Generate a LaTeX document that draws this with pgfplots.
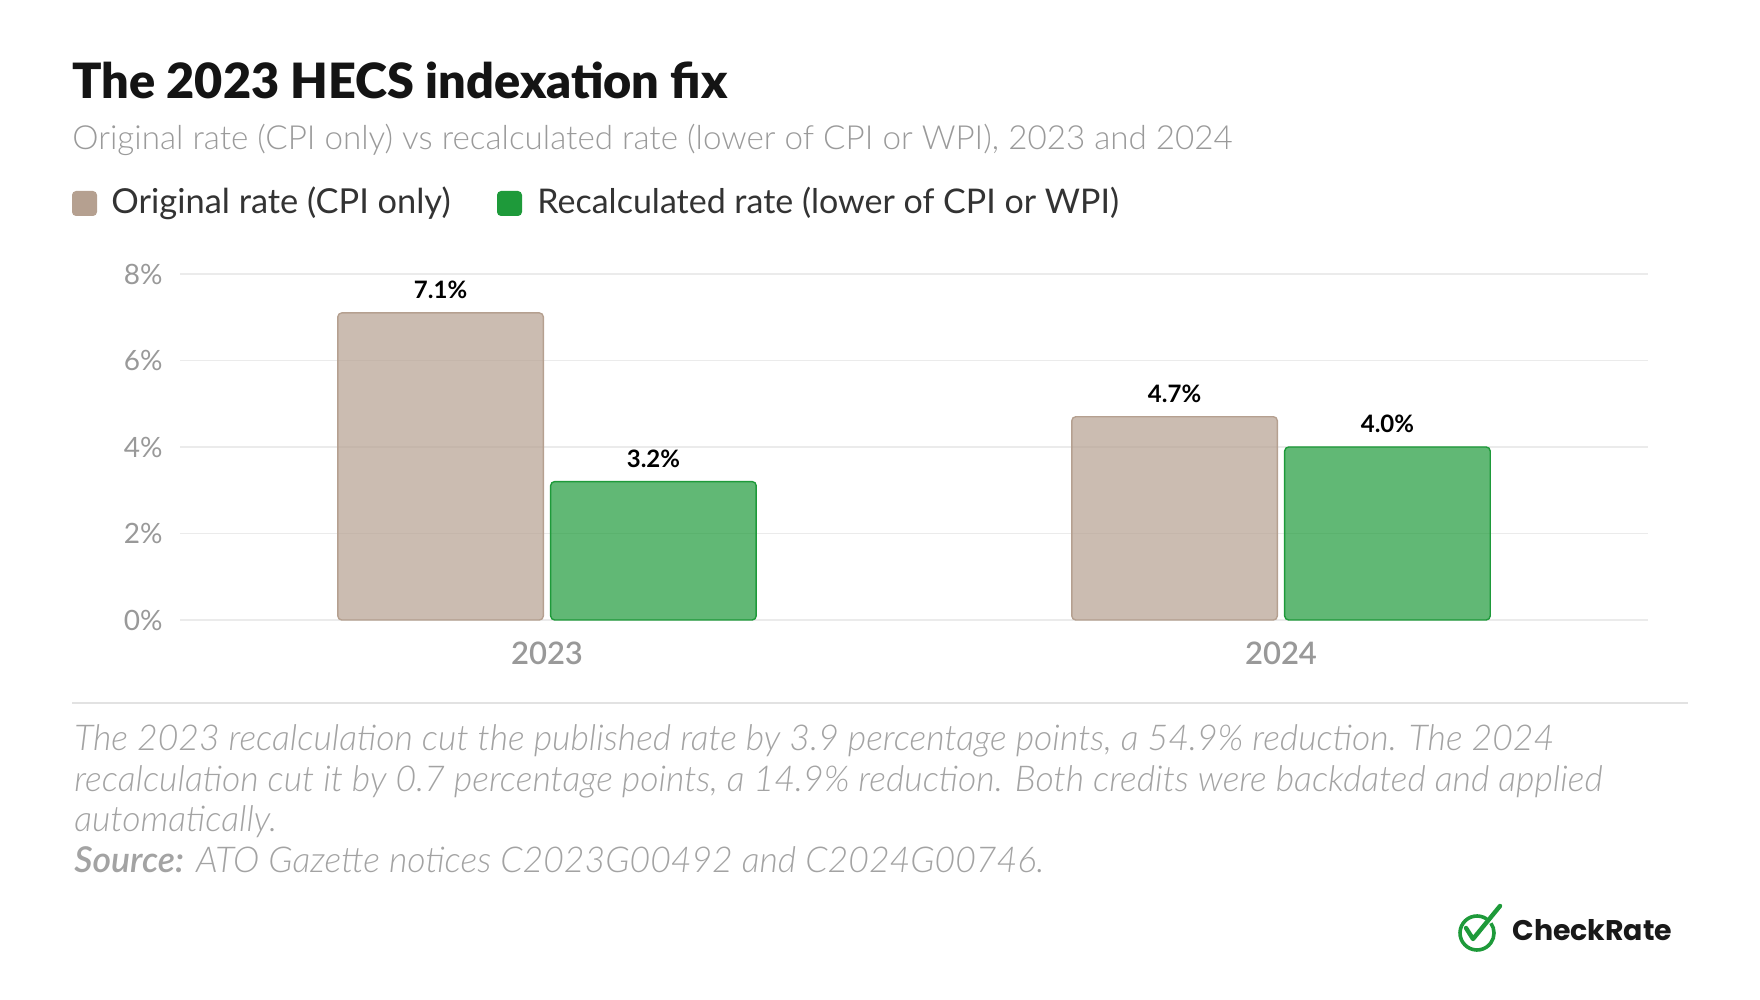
\documentclass[border=0pt]{standalone}
\usepackage{fontspec}
\setmainfont{Lato}
\newfontfamily\lightfont{Lato Light}
\newfontfamily\blackfont{Lato Black}
\newfontfamily\semifont{Lato Semibold}
\newfontfamily\logofont{Poppins}
\usepackage{pgfplots}
\pgfplotsset{compat=1.18}

\definecolor{origc}{HTML}{B5A090}
\definecolor{recc}{HTML}{1E9A3A}
\definecolor{gridc}{HTML}{EBEBEB}
\definecolor{tickc}{HTML}{999999}
\definecolor{subc}{HTML}{9A9A9A}
\definecolor{legc}{HTML}{333333}
\definecolor{notec}{HTML}{A3A3A3}
\definecolor{rulec}{HTML}{E2E2E2}

\begin{document}
\begin{tikzpicture}
\path[use as bounding box] (0,0) rectangle (880pt,500pt);

% title and subtitle
\node[anchor=base west, inner sep=0pt, text=black!92] at (36pt,450.5pt)
  {\fontsize{24.3}{28}\selectfont\blackfont The 2023 HECS indexation fix};
\node[anchor=base west, inner sep=0pt, text=subc] at (36pt,425pt)
  {\fontsize{16.6}{19}\selectfont\lightfont Original rate (CPI only) vs recalculated rate (lower of CPI or WPI), 2023 and 2024};

% legend
\fill[origc, rounded corners=2pt] (36pt,392pt) rectangle (48.5pt,404.5pt);
\node[anchor=base west, inner sep=0pt, text=legc] at (55.5pt,393pt)
  {\fontsize{17.2}{20}\selectfont Original rate (CPI only)};
\fill[recc, rounded corners=2pt] (248.5pt,392pt) rectangle (261pt,404.5pt);
\node[anchor=base west, inner sep=0pt, text=legc] at (268.5pt,393pt)
  {\fontsize{17}{20}\selectfont Recalculated rate (lower of CPI or WPI)};

\begin{axis}[
  at={(90pt,190pt)}, anchor=south west,
  scale only axis, width=734pt, height=173pt,
  xmin=-0.5, xmax=1.5, ymin=0, ymax=8,
  xtick={0,1}, xticklabels={2023,2024},
  ytick={0,2,4,6,8}, yticklabels={0\%,2\%,4\%,6\%,8\%},
  axis line style={draw=none},
  major tick length=0pt,
  ymajorgrids, grid style={draw=gridc, line width=0.6pt},
  yticklabel style={font=\fontsize{14}{16}\selectfont, text=tickc, anchor=east, inner sep=0pt, xshift=-8.5pt},
  xticklabel style={font=\fontsize{15.5}{18}\selectfont\semifont, text=tickc, anchor=base, inner sep=0pt, yshift=-22.5pt},
  ybar, bar width=0.28,
  nodes near coords={\pgfmathprintnumber[fixed,fixed zerofill,precision=1,assume math mode=true]{\pgfplotspointmeta}\%},
  nodes near coords style={font=\fontsize{12}{14}\selectfont\bfseries, text=black, fill opacity=1, text opacity=1, anchor=base, inner sep=0pt, yshift=7pt},
  clip=false,
]
\addplot[bar shift=-0.145, fill=origc, fill opacity=0.7, draw=origc, line width=0.7pt, rounded corners=2pt]
  coordinates {(0,7.1) (1,4.7)};
\addplot[bar shift=0.145, fill=recc, fill opacity=0.7, draw=recc, line width=0.7pt, rounded corners=2pt]
  coordinates {(0,3.2) (1,4.0)};
\end{axis}

% separator
\draw[rulec, line width=0.6pt] (36pt,148.5pt) -- (844pt,148.5pt);

% note
\begin{scope}[every node/.style={anchor=base west, inner sep=0pt, text=notec, font=\fontsize{17.8}{20}\selectfont\lightfont\itshape}]
\node at (37pt,124.5pt) {The 2023 recalculation cut the published rate by 3.9 percentage points, a 54.9\% reduction. The 2024};
\node at (37pt,104.3pt) {recalculation cut it by 0.7 percentage points, a 14.9\% reduction. Both credits were backdated and applied};
\node at (37pt,84.1pt) {automatically.};
\node at (37pt,63.9pt) {{\semifont\itshape Source:} ATO Gazette notices C2023G00492 and C2024G00746.};
\end{scope}

% logo
\draw[recc, line width=1.8pt] (738.5pt,33.5pt) ++(55:8.5pt) arc[start angle=55, end angle=395, radius=8.5pt];
\draw[recc, line width=2.2pt, line cap=round, line join=round] (733pt,36pt) -- (736.5pt,30.5pt) -- (750pt,47pt);
\node[anchor=base west, inner sep=0pt, text=black!90] at (756pt,29.5pt)
  {\fontsize{14.2}{16}\selectfont\logofont\bfseries CheckRate};
\end{tikzpicture}
\end{document}
